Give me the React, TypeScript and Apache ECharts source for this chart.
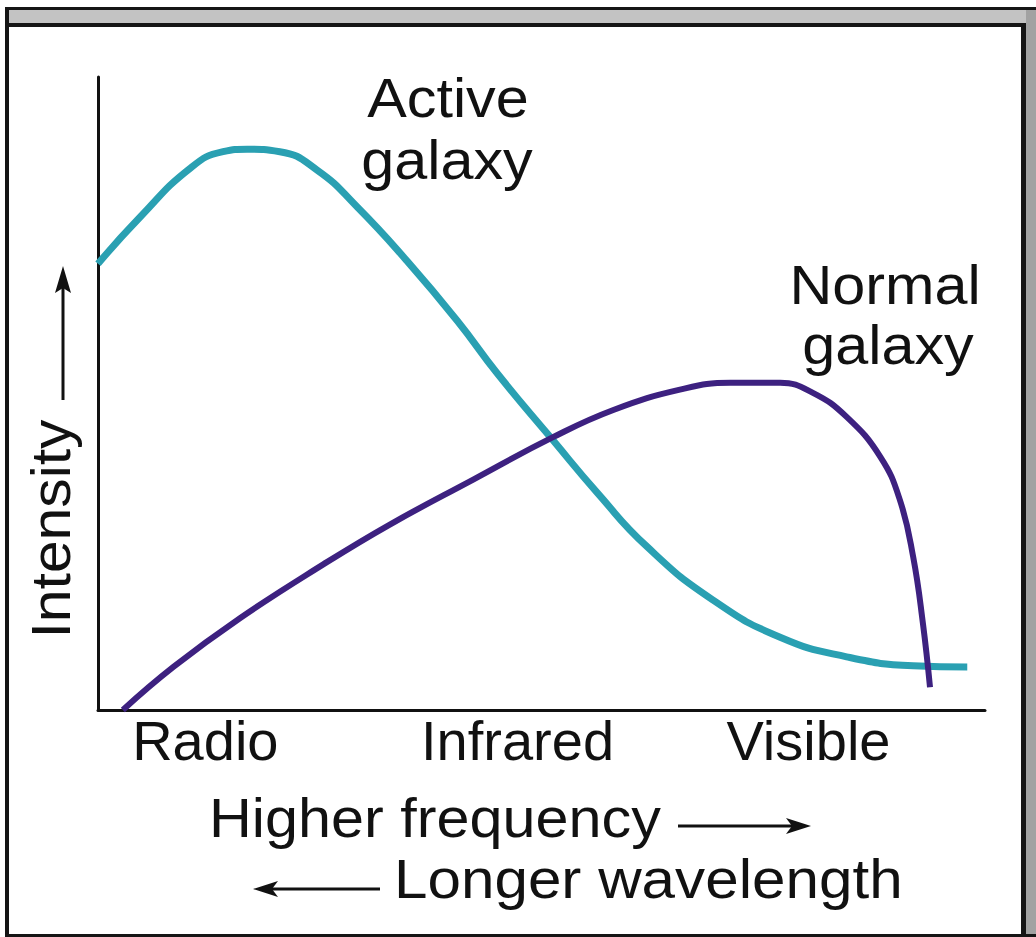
import React, { useEffect, useRef } from "react";
import * as echarts from "echarts";

// Spectrum curves: [relative position along spectrum (0-100), relative intensity (0-100)]
const activeGalaxy: [number, number][] = [
  [0, 70.5], [4.7, 77.8], [10.4, 85.6], [14.1, 88.2], [16.8, 88.6], [20.5, 88.2],
  [24.7, 85.3], [29.2, 79.5], [34.8, 71.0], [40.5, 61.5], [45.0, 53.2], [51.3, 42.6],
  [56.3, 34.3], [61.9, 25.8], [69.3, 17.4], [76.9, 11.5], [84.4, 8.4], [91.9, 7.0],
  [98.0, 6.8],
];

const normalGalaxy: [number, number][] = [
  [2.8, 0], [8.5, 6.8], [16.0, 14.5], [25.4, 23.0], [32.9, 29.3], [42.3, 36.4],
  [51.3, 43.1], [58.1, 47.4], [65.6, 50.6], [71.3, 51.7], [76.9, 51.7], [80.6, 50.1],
  [84.4, 46.3], [88.2, 40.0], [90.4, 33.2], [91.9, 24.2], [93.0, 13.7], [93.8, 3.6],
];

// Band tick labels and their positions on the x axis
const bandNames = ["Radio", "Infrared", "Visible"];
const bandValues = [12.1, 47.3, 80.1];

const activeLabel = ["Active", "galaxy"];
const normalLabel = ["Normal", "galaxy"];
const yTitle = "Intensity";
const xTitles = ["Higher frequency", "Longer wavelength"];

const FONT = "'Liberation Sans', Arial, Helvetica, sans-serif";
const INK = "#111111";

export default function App() {
  const ref = useRef<HTMLDivElement>(null);

  useEffect(() => {
    if (!ref.current) return;
    const chart = echarts.init(ref.current, null, { renderer: "svg" });

    const text = (
      t: string,
      x: number,
      baseline: number,
      align: "left" | "center" | "right" = "left",
      extra: any = {}
    ) => ({
      type: "text",
      x,
      y: baseline - 20,
      scaleX: 1.06,
      z: 10,
      style: {
        text: t,
        x: 0,
        y: 0,
        fontSize: 56,
        fontFamily: FONT,
        fill: INK,
        align,
        verticalAlign: "middle",
      },
      ...extra,
    });

    const option: any = {
      animation: false,
      backgroundColor: "#ffffff",
      grid: { left: 98, right: 51, top: 77, bottom: 227, outerBoundsMode: "none" },
      xAxis: {
        type: "value",
        min: 0,
        max: 100,
        axisLine: { show: true, onZero: false, lineStyle: { color: INK, width: 3 } },
        axisTick: { show: false },
        splitLine: { show: false },
        axisLabel: {
          customValues: bandValues,
          formatter: (v: number) => {
            let best = 0;
            bandValues.forEach((b, i) => {
              if (Math.abs(b - v) < Math.abs(bandValues[best] - v)) best = i;
            });
            return bandNames[best];
          },
          fontSize: 56,
          fontFamily: FONT,
          color: INK,
          margin: 2,
        },
      },
      yAxis: {
        type: "value",
        min: 0,
        max: 100,
        axisLine: { show: true, lineStyle: { color: INK, width: 3 } },
        axisTick: { show: false },
        axisLabel: { show: false },
        splitLine: { show: false },
      },
      series: [
        {
          name: "Active galaxy",
          type: "line",
          data: activeGalaxy,
          smooth: 0.5,
          symbol: "none",
          clip: false,
          z: 5,
          lineStyle: { color: "#2aa0b2", width: 7 },
        },
        {
          name: "Normal galaxy",
          type: "line",
          data: normalGalaxy,
          smooth: 0.45,
          symbol: "none",
          clip: false,
          z: 6,
          lineStyle: { color: "#3d2180", width: 6 },
        },
      ],
      graphic: [
        // frame
        { type: "rect", z: -10, silent: true, shape: { x: 5, y: 7, width: 1031, height: 930 }, style: { fill: "#151515" } },
        { type: "rect", z: -9, silent: true, shape: { x: 9, y: 10, width: 1027, height: 13 }, style: { fill: "#c3c3c3" } },
        { type: "rect", z: -9, silent: true, shape: { x: 1026, y: 10, width: 10, height: 924 }, style: { fill: "#a2a2a2" } },
        { type: "rect", z: -9, silent: true, shape: { x: 9, y: 27, width: 1012, height: 907 }, style: { fill: "#ffffff" } },
        // curve labels
        text(activeLabel[0], 448, 118, "center"),
        text(activeLabel[1], 447, 180, "center"),
        text(normalLabel[0], 885, 305, "center"),
        text(normalLabel[1], 888, 365, "center"),
        // x titles
        text(xTitles[0], 209, 838, "left"),
        text(xTitles[1], 394, 898, "left", { scaleX: 1.075 }),
        // y title rotated
        {
          type: "text",
          x: 50,
          y: 529,
          rotation: Math.PI / 2,
          scaleX: 1.05,
          z: 10,
          style: {
            text: yTitle,
            x: 0,
            y: 0,
            fontSize: 56,
            fontFamily: FONT,
            fill: INK,
            align: "center",
            verticalAlign: "middle",
          },
        },
        // arrows
        { type: "line", z: 10, shape: { x1: 63, y1: 400, x2: 63, y2: 288 }, style: { stroke: INK, lineWidth: 3 } },
        { type: "polygon", z: 10, shape: { points: [[63, 266], [55, 293], [63, 288], [71, 293]] }, style: { fill: INK } },
        { type: "line", z: 10, shape: { x1: 678, y1: 826, x2: 792, y2: 826 }, style: { stroke: INK, lineWidth: 3 } },
        { type: "polygon", z: 10, shape: { points: [[811, 826], [786, 818], [792, 826], [786, 834]] }, style: { fill: INK } },
        { type: "line", z: 10, shape: { x1: 380, y1: 889, x2: 272, y2: 889 }, style: { stroke: INK, lineWidth: 3 } },
        { type: "polygon", z: 10, shape: { points: [[253, 889], [278, 881], [272, 889], [278, 897]] }, style: { fill: INK } },
      ],
    };

    chart.setOption(option);
    return () => chart.dispose();
  }, []);

  return (
    <div
      ref={ref}
      style={{ position: "fixed", left: 0, top: 0, width: 1036, height: 937, background: "#ffffff" }}
    />
  );
}
